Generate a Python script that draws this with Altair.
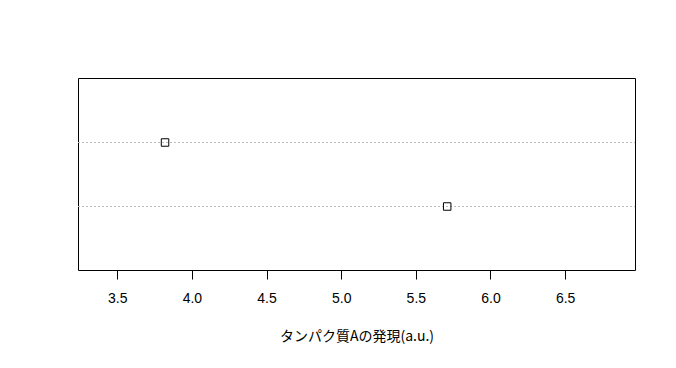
import altair as alt
import pandas as pd

rows = ["2", "1"]
row_pos = [2, 1]
values = [3.82, 5.71]
x_ticks = [3.5, 4.0, 4.5, 5.0, 5.5, 6.0, 6.5]
x_title = "タンパク質Aの発現(a.u.)"

df = pd.DataFrame({"row": rows, "pos": row_pos, "value": values})

xs = alt.Scale(domain=[3.237, 6.968], nice=False, zero=False)
ys = alt.Scale(domain=[0, 3], nice=False, zero=False)

xaxis = alt.Axis(values=x_ticks, format=".1f", title=x_title, grid=False,
                 domain=False, tickColor="black", tickSize=9, tickWidth=1,
                 labelFont="Liberation Sans", labelFontSize=14, labelColor="black",
                 labelPadding=12, titleFont="Noto Sans CJK JP", titleFontSize=14,
                 titleFontWeight="normal", titleColor="black", titlePadding=24)

grid = alt.Chart(df).mark_rule(color="#bebebe", strokeDash=[2, 2], strokeWidth=1,
                               yOffset=0.5).encode(
    y=alt.Y("pos:Q", scale=ys, axis=None),
    x=alt.value(0),
    x2=alt.value(557),
)

pts = alt.Chart(df).mark_point(shape="square", filled=False, color="black",
                               strokeWidth=1, size=56, opacity=1,
                               yOffset=0.5).encode(
    x=alt.X("value:Q", scale=xs, axis=xaxis),
    y=alt.Y("pos:Q", scale=ys, axis=None),
)

chart = alt.layer(grid, pts).properties(
    width=557, height=192,
    autosize=alt.AutoSizeParams(type="none"),
    padding={"left": 70, "top": 70, "right": 33, "bottom": 90},
).configure(background="white").configure_view(stroke="black", strokeWidth=1)

chart.save("out.html", embed_options={"renderer": "svg", "actions": False})
